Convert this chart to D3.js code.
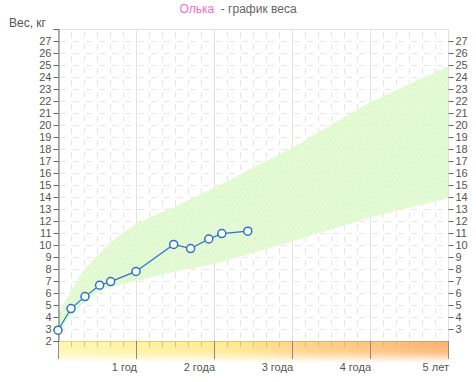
<!DOCTYPE html>
<html>
<head>
<meta charset="utf-8">
<title>Олька - график веса</title>
<script src="https://d3js.org/d3.v7.min.js"></script>
<style>
  body { margin: 0; background: #fff; }
  text { font-family: "Liberation Sans", Arial, sans-serif; }
</style>
</head>
<body>
<div id="viz"></div>
<script>

// Child weight, age in months
var ageMonths = [0, 2, 4.15, 6.4, 8.1, 12, 17.8, 20.4, 23.2, 25.2, 29.2];
var weightKg  = [2.9, 4.7, 5.7, 6.65, 6.95, 7.8, 10.05, 9.7, 10.5, 10.95, 11.15];

// Norm band (upper / lower limits)
var normAges  = [0, 2, 4, 6, 8, 12, 18, 24, 36, 48, 60];
var normUpper = [4.2, 6.2, 8.0, 9.1, 10.2, 11.8, 13.2, 14.75, 18.1, 21.9, 24.9];
var normLower = [2.6, 4.1, 5.2, 6.0, 6.5, 7.0, 7.8, 8.4, 10.3, 12.3, 13.9];

// X tick labels (years)
var yearTicks  = [12, 24, 36, 48, 60];
var yearLabels = ["1 год", "2 года", "3 года", "4 года", "5 лет"];

var width = 476, height = 382;

var svg = d3.select("#viz")
  .append("svg")
    .attr("width", width)
    .attr("height", height);

var x = d3.scaleLinear().domain([0, 60]).range([58, 448]);
var y = d3.scaleLinear().domain([2, 28]).range([341, 29]);

var defs = svg.append("defs");

// hatch for the norm band
var pat = defs.append("pattern")
  .attr("id", "hatch")
  .attr("width", 4).attr("height", 4)
  .attr("patternUnits", "userSpaceOnUse")
  .attr("patternTransform", "rotate(45)");
pat.append("rect").attr("width", 4).attr("height", 4).attr("fill", "#e2fbd2");
pat.append("line").attr("x1", 0).attr("y1", 0).attr("x2", 0).attr("y2", 4)
  .attr("stroke", "#d6f3c4").attr("stroke-width", 1.5);

// bottom ruler gradients
var hg = defs.append("linearGradient").attr("id", "rulerH")
  .attr("gradientUnits", "userSpaceOnUse")
  .attr("x1", x(0)).attr("x2", x(60)).attr("y1", 0).attr("y2", 0);
[[0, "#fff6b0"], [0.2, "#fff29c"], [0.45, "#ffe88c"], [0.6, "#ffd484"], [0.8, "#ffc27a"], [1, "#ffb06c"]]
  .forEach(function(s) { hg.append("stop").attr("offset", s[0]).attr("stop-color", s[1]); });

var hl = defs.append("linearGradient").attr("id", "rulerLine")
  .attr("gradientUnits", "userSpaceOnUse")
  .attr("x1", x(0)).attr("x2", x(60)).attr("y1", 0).attr("y2", 0);
[[0, "#e8d888"], [0.45, "#e6c870"], [1, "#dc9a5c"]]
  .forEach(function(s) { hl.append("stop").attr("offset", s[0]).attr("stop-color", s[1]); });

var vg = defs.append("linearGradient").attr("id", "fadeV")
  .attr("x1", 0).attr("x2", 0).attr("y1", 0).attr("y2", 1);
vg.append("stop").attr("offset", 0).attr("stop-color", "#fff").attr("stop-opacity", 0);
vg.append("stop").attr("offset", 0.5).attr("stop-color", "#fff").attr("stop-opacity", 0.15);
vg.append("stop").attr("offset", 1).attr("stop-color", "#fff").attr("stop-opacity", 1);

// grid
var grid = svg.append("g");
grid.selectAll(".hgrid")
  .data(d3.range(3, 28))
  .enter().append("line")
    .attr("x1", x(0)).attr("x2", x(60))
    .attr("y1", function(d) { return y(d) + 0.5; })
    .attr("y2", function(d) { return y(d) + 0.5; })
    .attr("stroke", "#e6e6e6")
    .attr("stroke-dasharray", "6,7")
    .attr("stroke-dashoffset", -2);

grid.selectAll(".vgrid")
  .data(d3.range(2, 60, 2).filter(function(m) { return m % 12 !== 0; }))
  .enter().append("line")
    .attr("x1", function(d) { return x(d) + 0.5; })
    .attr("x2", function(d) { return x(d) + 0.5; })
    .attr("y1", y(28)).attr("y2", y(2))
    .attr("stroke", "#e6e6e6")
    .attr("stroke-dasharray", "6,6")
    .attr("stroke-dashoffset", -3);

grid.selectAll(".ygrid")
  .data([12, 24, 36, 48])
  .enter().append("line")
    .attr("x1", function(d) { return x(d) + 0.5; })
    .attr("x2", function(d) { return x(d) + 0.5; })
    .attr("y1", y(28)).attr("y2", y(2))
    .attr("stroke", "#e2e2e2");

// plot frame
svg.append("rect")
  .attr("x", x(0) + 0.5).attr("y", y(28) + 0.5)
  .attr("width", x(60) - x(0)).attr("height", y(2) - y(28))
  .attr("fill", "none").attr("stroke", "#e0e0e0");

// norm band
var band = normAges.map(function(a, i) { return { a: a, hi: normUpper[i], lo: normLower[i] }; });
svg.append("path")
  .datum(band)
  .attr("fill", "url(#hatch)")
  .attr("fill-opacity", 0.9)
  .attr("d", d3.area()
    .x(function(d) { return x(d.a); })
    .y0(function(d) { return y(d.lo); })
    .y1(function(d) { return y(d.hi); }));

// bottom ruler
svg.append("rect")
  .attr("x", x(0)).attr("y", y(2))
  .attr("width", x(60) - x(0)).attr("height", 22)
  .attr("fill", "url(#rulerH)");
svg.append("rect")
  .attr("x", x(0)).attr("y", y(2))
  .attr("width", x(60) - x(0)).attr("height", 22)
  .attr("fill", "url(#fadeV)");
svg.append("line")
  .attr("x1", x(0)).attr("x2", x(60))
  .attr("y1", y(2) + 0.5).attr("y2", y(2) + 0.5)
  .attr("stroke", "url(#rulerLine)");

svg.append("g").selectAll("line")
  .data(d3.range(2, 60, 2).filter(function(m) { return m % 12 !== 0; }))
  .enter().append("line")
    .attr("x1", function(d) { return x(d) + 0.5; })
    .attr("x2", function(d) { return x(d) + 0.5; })
    .attr("y1", y(2)).attr("y2", y(2) + 6)
    .attr("stroke", "#c8b890").attr("stroke-opacity", 0.8);

svg.append("g").selectAll("line")
  .data([0, 12, 24, 36, 48, 60])
  .enter().append("line")
    .attr("x1", function(d) { return x(d) + 0.5; })
    .attr("x2", function(d) { return x(d) + 0.5; })
    .attr("y1", y(2)).attr("y2", y(2) + 18)
    .attr("stroke", "#8a8a8a");

svg.append("g").selectAll("text")
  .data(yearTicks)
  .enter().append("text")
    .attr("x", function(d) { return x(d) + 1; })
    .attr("y", 371)
    .attr("text-anchor", "end")
    .attr("font-size", 11)
    .attr("fill", "#555")
    .text(function(d, i) { return yearLabels[i]; });

// left axis
var leftAxis = d3.axisLeft(y)
  .tickValues(d3.range(2, 29))
  .tickSize(5)
  .tickFormat(function(d) { return d === 28 ? "" : d; });
var gl = svg.append("g")
  .attr("transform", "translate(" + (x(0) + 0.5) + ",0)")
  .call(leftAxis);
gl.select(".domain").attr("stroke", "#666");
gl.selectAll(".tick line").attr("stroke", "#666");
gl.selectAll(".tick text")
  .attr("font-family", "Liberation Sans, Arial, sans-serif")
  .attr("font-size", 11).attr("fill", "#555").attr("x", -7);

// right axis
var rightAxis = d3.axisRight(y)
  .tickValues(d3.range(3, 28))
  .tickSize(5);
var gr = svg.append("g")
  .attr("transform", "translate(" + (x(60) + 0.5) + ",0)")
  .call(rightAxis);
gr.select(".domain").remove();
gr.selectAll(".tick line").attr("stroke", "#666");
gr.selectAll(".tick text")
  .attr("font-family", "Liberation Sans, Arial, sans-serif")
  .attr("font-size", 11).attr("fill", "#555").attr("x", 7);

// weight line
var pts = ageMonths.map(function(a, i) { return { a: a, w: weightKg[i] }; });
svg.append("path")
  .datum(pts)
  .attr("fill", "none")
  .attr("stroke", "#2e72c8")
  .attr("stroke-width", 1.2)
  .attr("d", d3.line()
    .x(function(d) { return x(d.a); })
    .y(function(d) { return y(d.w); }));

svg.append("g").selectAll("circle")
  .data(pts)
  .enter().append("circle")
    .attr("cx", function(d) { return x(d.a); })
    .attr("cy", function(d) { return y(d.w); })
    .attr("r", 4)
    .attr("fill", "#fff")
    .attr("stroke", "#2e72c8")
    .attr("stroke-width", 1.5);

// titles
var title = svg.append("text")
  .attr("x", 238).attr("y", 13)
  .attr("text-anchor", "middle")
  .attr("font-size", 12);
title.append("tspan").attr("fill", "#f06ec8").text("Олька");
title.append("tspan").attr("fill", "#666").text("\u00a0\u00a0- график веса");

svg.append("text")
  .attr("x", 9).attr("y", 27)
  .attr("font-size", 12)
  .attr("fill", "#555")
  .text("Вес, кг");

</script>
</body>
</html>
